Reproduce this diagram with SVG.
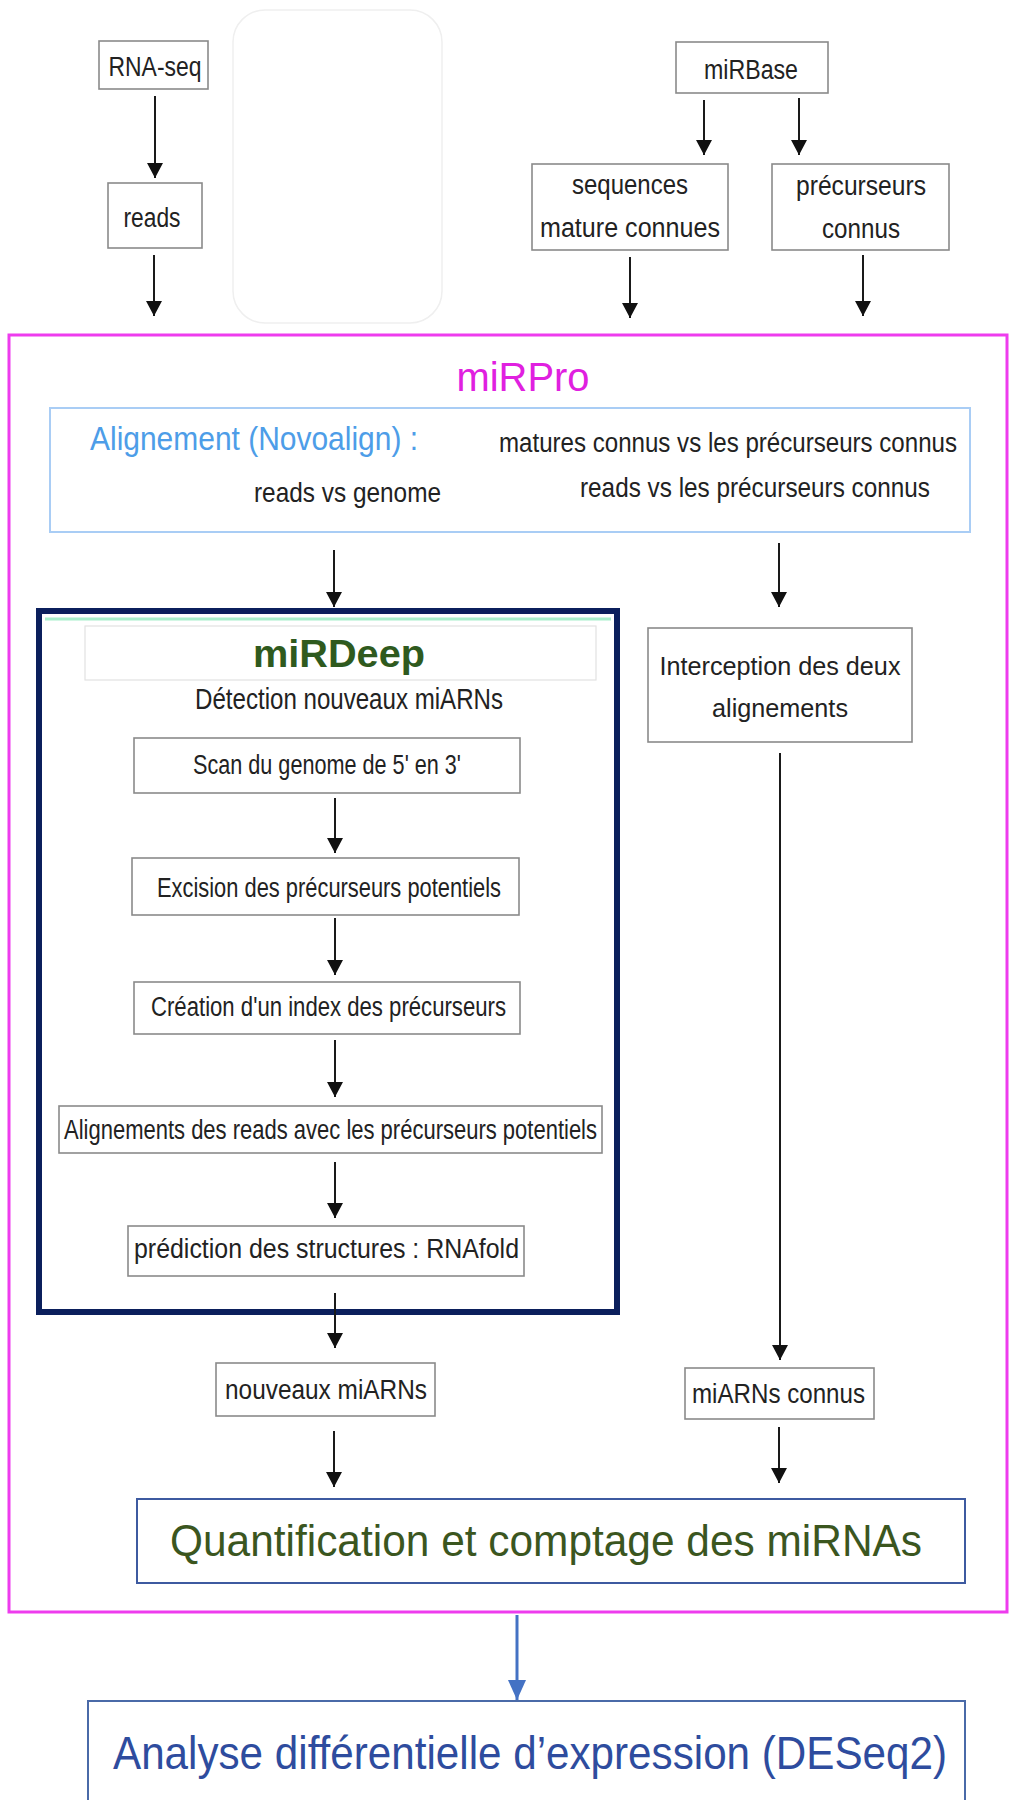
<svg xmlns="http://www.w3.org/2000/svg" width="1010" height="1800" viewBox="0 0 1010 1800">
  <defs>
    <marker id="ah" markerUnits="userSpaceOnUse" markerWidth="15" markerHeight="16" viewBox="0 0 15 16" refX="15" refY="8" orient="auto">
      <path d="M0,0 L15,8 L0,16 z" fill="#111"/>
    </marker>
    <marker id="ahBlue" markerUnits="userSpaceOnUse" markerWidth="20" markerHeight="18" viewBox="0 0 20 18" refX="20" refY="9" orient="auto">
      <path d="M0,0 L20,9 L0,18 z" fill="#4472c4"/>
    </marker>
    <style>
      text { font-family: "Liberation Sans", Arial, sans-serif; fill: #222; }
      .box { fill: #fff; stroke: #8a8a8a; stroke-width: 1.6; }
      .t { font-size: 27px; }
      .mid { text-anchor: middle; }
      .conn line { stroke: #1a1a1a; stroke-width: 2; marker-end: url(#ah); }
      .conn line.blue { stroke: #4472c4; stroke-width: 3; marker-end: url(#ahBlue); }
    </style>
  </defs>

  <rect width="1010" height="1800" fill="#fff"/>

  <!-- faint rounded panel near the top -->
  <rect x="233" y="10" width="209" height="313" rx="32" fill="none" stroke="#efefef" stroke-width="1.5"/>

  <!-- miRPro container -->
  <g id="mirpro">
    <rect x="9" y="335" width="998" height="1277" fill="none" stroke="#ee3cee" stroke-width="3"/>
    <text x="523" y="391" class="mid" font-size="41" textLength="133" lengthAdjust="spacingAndGlyphs" style="fill:#e020e0">miRPro</text>
  </g>

  <!-- inputs -->
  <g id="rnaseq">
    <rect class="box" x="99" y="41" width="109" height="48"/>
    <text class="t mid" x="155" y="76" textLength="93" lengthAdjust="spacingAndGlyphs">RNA-seq</text>
  </g>
  <g id="reads">
    <rect class="box" x="108" y="183" width="94" height="65"/>
    <text class="t mid" x="152" y="227" textLength="57" lengthAdjust="spacingAndGlyphs">reads</text>
  </g>
  <g id="mirbase">
    <rect class="box" x="676" y="42" width="152" height="51"/>
    <text class="t mid" x="751" y="79" textLength="94" lengthAdjust="spacingAndGlyphs">miRBase</text>
  </g>
  <g id="sequences">
    <rect class="box" x="532" y="164" width="196" height="86"/>
    <text class="t mid" x="630" y="194" textLength="116" lengthAdjust="spacingAndGlyphs">sequences</text>
    <text class="t mid" x="630" y="237" textLength="180" lengthAdjust="spacingAndGlyphs">mature connues</text>
  </g>
  <g id="precurseurs">
    <rect class="box" x="772" y="164" width="177" height="86"/>
    <text class="t mid" x="861" y="195" textLength="130" lengthAdjust="spacingAndGlyphs">précurseurs</text>
    <text class="t mid" x="861" y="238" textLength="78" lengthAdjust="spacingAndGlyphs">connus</text>
  </g>

  <!-- alignment step -->
  <g id="alignement">
    <rect x="50" y="408" width="920" height="124" fill="#fff" stroke="#a9cdf5" stroke-width="2"/>
    <text x="90" y="450" font-size="33" textLength="328" lengthAdjust="spacingAndGlyphs" style="fill:#4d9de8">Alignement (Novoalign) :</text>
    <text transform="translate(499 452) scale(1 1.167)" x="0" y="0" font-size="24" textLength="458" lengthAdjust="spacingAndGlyphs">matures connus vs les précurseurs connus</text>
    <text x="254" y="502" font-size="28" textLength="187" lengthAdjust="spacingAndGlyphs">reads vs genome</text>
    <text x="580" y="497" font-size="28" textLength="350" lengthAdjust="spacingAndGlyphs">reads vs les précurseurs connus</text>
  </g>

  <!-- miRDeep block -->
  <g id="mirdeep">
    <rect x="39" y="611" width="578" height="701" fill="#fff" stroke="#0b1f5c" stroke-width="6"/>
    <line x1="45" y1="619" x2="611" y2="619" stroke="#a8f0cc" stroke-width="3"/>
    <rect x="85" y="626" width="511" height="54" fill="#fff" stroke="#e2e2e2" stroke-width="1.2"/>
    <text x="339" y="667" class="mid" font-size="39" font-weight="bold" textLength="172" lengthAdjust="spacingAndGlyphs" style="fill:#2f5a1e">miRDeep</text>
    <text x="349" y="709" class="mid" font-size="29" textLength="308" lengthAdjust="spacingAndGlyphs">Détection nouveaux miARNs</text>
  </g>
  <g id="scan">
    <rect class="box" x="134" y="738" width="386" height="55"/>
    <text class="t" x="193" y="774" textLength="268" lengthAdjust="spacingAndGlyphs">Scan du genome de 5' en 3'</text>
  </g>
  <g id="excision">
    <rect class="box" x="132" y="858" width="387" height="57"/>
    <text class="t" x="157" y="897" textLength="344" lengthAdjust="spacingAndGlyphs">Excision des précurseurs potentiels</text>
  </g>
  <g id="creation">
    <rect class="box" x="134" y="982" width="386" height="52"/>
    <text class="t" x="151" y="1016" textLength="355" lengthAdjust="spacingAndGlyphs">Création d'un index des précurseurs</text>
  </g>
  <g id="alignements-reads">
    <rect class="box" x="59" y="1106" width="543" height="47"/>
    <text class="t" x="64" y="1139" textLength="533" lengthAdjust="spacingAndGlyphs">Alignements des reads avec les précurseurs potentiels</text>
  </g>
  <g id="prediction">
    <rect class="box" x="128" y="1226" width="396" height="50"/>
    <text class="t" x="134" y="1258" textLength="385" lengthAdjust="spacingAndGlyphs">prédiction des structures : RNAfold</text>
  </g>

  <!-- known miRNA branch -->
  <g id="interception">
    <rect class="box" x="648" y="628" width="264" height="114"/>
    <text x="780" y="675" class="mid" font-size="26" textLength="241" lengthAdjust="spacingAndGlyphs">Interception des deux</text>
    <text x="780" y="717" class="mid" font-size="26" textLength="136" lengthAdjust="spacingAndGlyphs">alignements</text>
  </g>

  <!-- outputs -->
  <g id="nouveaux">
    <rect class="box" x="216" y="1363" width="219" height="53"/>
    <text class="t" x="225" y="1399" textLength="202" lengthAdjust="spacingAndGlyphs">nouveaux miARNs</text>
  </g>
  <g id="connus">
    <rect class="box" x="685" y="1368" width="189" height="51"/>
    <text class="t" x="692" y="1403" textLength="173" lengthAdjust="spacingAndGlyphs">miARNs connus</text>
  </g>
  <g id="quantification">
    <rect x="137" y="1499" width="828" height="84" fill="#fff" stroke="#3d5aa0" stroke-width="2"/>
    <text x="170" y="1556" font-size="44" textLength="752" lengthAdjust="spacingAndGlyphs" style="fill:#3b561f">Quantification et comptage des miRNAs</text>
  </g>
  <g id="deseq2">
    <rect x="88" y="1701" width="877" height="110" fill="#fff" stroke="#4a6aa8" stroke-width="2"/>
    <text transform="translate(113 1769) scale(1 1.095)" x="0" y="0" font-size="42" textLength="834" lengthAdjust="spacingAndGlyphs" style="fill:#2e4c9e">Analyse différentielle d’expression (DESeq2)</text>
  </g>

  <!-- connectors -->
  <g id="connectors" class="conn">
    <line x1="155" y1="96" x2="155" y2="178"/>
    <line x1="154" y1="255" x2="154" y2="316"/>
    <line x1="704" y1="100" x2="704" y2="155"/>
    <line x1="799" y1="98" x2="799" y2="155"/>
    <line x1="630" y1="257" x2="630" y2="318"/>
    <line x1="863" y1="255" x2="863" y2="316"/>
    <line x1="334" y1="550" x2="334" y2="607"/>
    <line x1="779" y1="543" x2="779" y2="607"/>
    <line x1="335" y1="798" x2="335" y2="853"/>
    <line x1="335" y1="918" x2="335" y2="975"/>
    <line x1="335" y1="1040" x2="335" y2="1097"/>
    <line x1="335" y1="1162" x2="335" y2="1218"/>
    <line x1="335" y1="1293" x2="335" y2="1348"/>
    <line x1="780" y1="753" x2="780" y2="1360"/>
    <line x1="334" y1="1431" x2="334" y2="1487"/>
    <line x1="779" y1="1427" x2="779" y2="1483"/>
    <line class="blue" x1="517" y1="1615" x2="517" y2="1700"/>
  </g>
</svg>
